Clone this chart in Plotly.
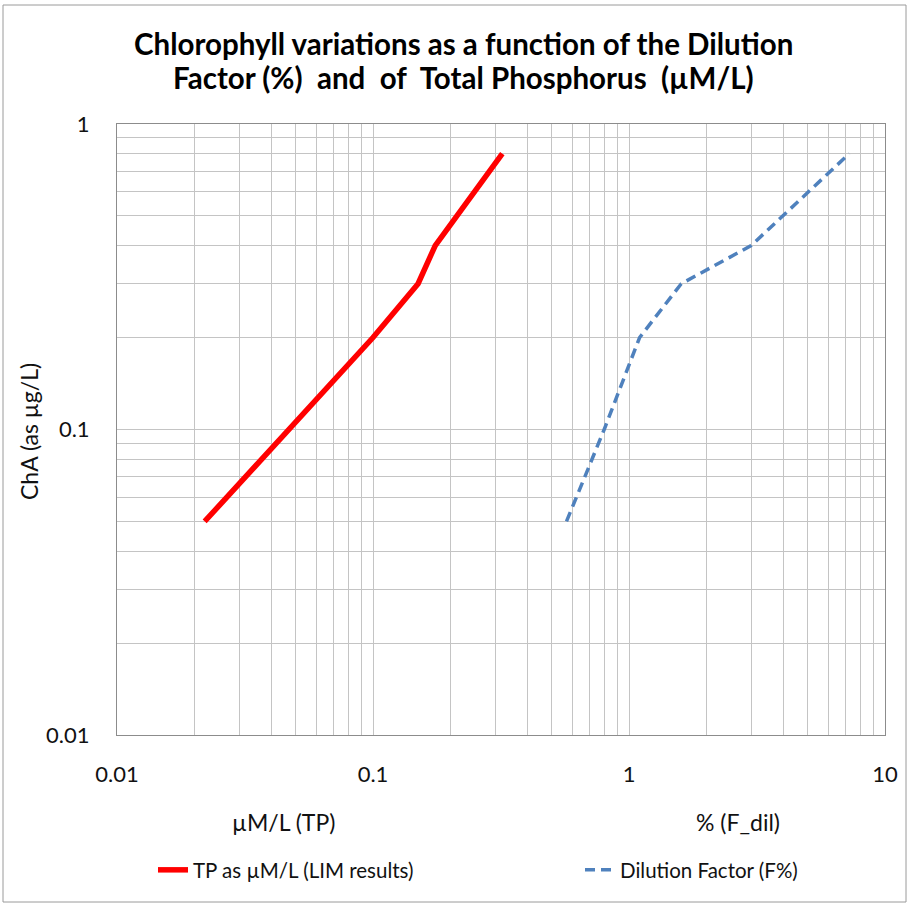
import plotly.graph_objects as go

# Chlorophyll-a response (µg/L)
tp_x = [0.022, 0.047, 0.1, 0.15, 0.175, 0.32]       # Total phosphorus, µM/L
tp_y = [0.05, 0.1, 0.2, 0.3, 0.4, 0.8]
dil_x = [0.57, 0.8, 1.1, 1.6, 3.0, 7.25]            # Dilution factor, %
dil_y = [0.05, 0.1, 0.2, 0.3, 0.4, 0.8]

x_decades = [0.01, 0.1, 1, 10]
y_decades = [0.01, 0.1, 1]

title_lines = [
    "Chlorophyll variations as a function of the Dilution",
    "Factor (%)  and  of  Total Phosphorus  (µM/L)",
]

FONT = "Lato, Open Sans, sans-serif"

W, H = 909, 905
L, R, T, B = 117, 24, 124, 170
PW, PH = W - L - R, H - T - B


def px(x, y):
    """Pixel position in the page -> paper coordinates."""
    return (x - L) / PW, (H - B - y) / PH


def log_ticks(decades):
    vals, text = [], []
    for i, d in enumerate(decades):
        steps = range(1, 10) if i < len(decades) - 1 else [1]
        for k in steps:
            vals.append(k * d)
            text.append(("%g" % d) if k == 1 else "")
    return vals, text


xv, xt = log_ticks(x_decades)
yv, yt = log_ticks(y_decades)

fig = go.Figure()
fig.add_trace(go.Scatter(
    x=tp_x, y=tp_y, mode="lines", name="TP as µM/L (LIM results)",
    line=dict(color="#FF0000", width=5.5), legend="legend",
))
fig.add_trace(go.Scatter(
    x=dil_x, y=dil_y, mode="lines", name="Dilution Factor (F%)",
    line=dict(color="#4F81BD", width=3.5, dash="10px,6px"), legend="legend2",
))

axis_common = dict(
    type="log", showgrid=True, gridcolor="#C4C4C4", gridwidth=1,
    showline=True, linecolor="#8C8C8C", linewidth=1, mirror=True,
    ticks="", zeroline=False, tickfont=dict(family=FONT, size=22, color="#111"),
)
fig.update_xaxes(range=[-2, 1], tickvals=xv, ticktext=xt, ticklabelstandoff=20, **axis_common)
fig.update_yaxes(range=[-2, 0], tickvals=yv, ticktext=yt, ticklabelstandoff=22, **axis_common)

lg1x, lg1y = px(153, 870)
lg2x, lg2y = px(580, 870)
f0x, f0y = px(3, 5)
f1x, f1y = px(906, 902)

legend_style = dict(
    orientation="h", xanchor="left", yanchor="middle",
    font=dict(family=FONT, size=20.5, color="#111"), bgcolor="rgba(0,0,0,0)",
)


def label(text, x, y, size, angle=0, bold=False):
    ax, ay = px(x, y)
    return dict(
        text=f"<b>{text}</b>" if bold else text, x=ax, y=ay,
        xref="paper", yref="paper", xanchor="center", yanchor="middle",
        showarrow=False, textangle=angle,
        font=dict(family=FONT, size=size, color="#000" if bold else "#111"),
    )


fig.update_layout(
    width=W, height=H,
    margin=dict(l=L, r=R, t=T, b=B),
    paper_bgcolor="white", plot_bgcolor="white",
    font=dict(family=FONT, color="#111"),
    showlegend=True,
    legend=dict(x=lg1x, y=lg1y, **legend_style),
    legend2=dict(x=lg2x, y=lg2y, **legend_style),
    annotations=[
        label(title_lines[0], 463, 43, 29.5, bold=True),
        label(title_lines[1], 463, 78, 29.5, bold=True),
        label("µM/L (TP)", 283, 822, 23),
        label("% (F_dil)", 738, 822, 23),
        label("ChA (as µg/L)", 29, 432, 23, angle=-90),
    ],
    shapes=[
        dict(type="rect", xref="paper", yref="paper", x0=f0x, y0=f1y, x1=f1x, y1=f0y,
             line=dict(color="#9A9A9A", width=1), fillcolor="rgba(0,0,0,0)", layer="below"),
    ],
)

fig.write_html("out.html")
